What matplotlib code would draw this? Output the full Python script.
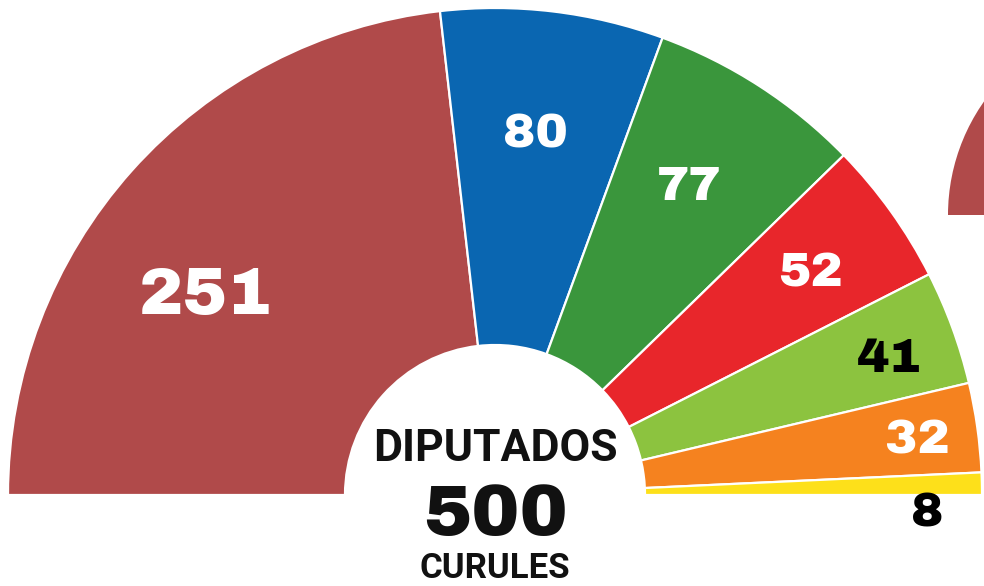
import matplotlib.pyplot as plt
from matplotlib.patches import Wedge
import numpy as np

# seats per party, drawn as a half donut (clockwise from the left)
seats = [251, 80, 77, 52, 41, 32, 8]
colors = ["#b04a4a", "#0a66b1", "#3a963c", "#e8262b", "#8cc33f", "#f5821f", "#fde01a"]
label_colors = ["white", "white", "white", "white", "black", "white", "black"]
title_top = "DIPUTADOS"
title_num = "500"
title_bottom = "CURULES"

W, H = 984, 586
fig = plt.figure(figsize=(W / 100, H / 100), dpi=100)
ax = fig.add_axes([0, 0, 1, 1])
ax.set_xlim(0, W)
ax.set_ylim(0, H)
ax.set_aspect("equal")
ax.axis("off")

# geometry in pixels (y up)
cx, cy = 495, H - 495
r_out, r_in = 487, 150

total = sum(seats)
start = 0
mids = []
for v, c in zip(seats, colors):
    t2 = 180 - start / total * 180
    t1 = 180 - (start + v) / total * 180
    ax.add_patch(Wedge((cx, cy), r_out, t1, t2, width=r_out - r_in,
                       facecolor=c, edgecolor="white", linewidth=1.6))
    mids.append((t1 + t2) / 2)
    start += v

# label placement: radius and angle shift from the mid angle
label_r = [355, 367, 368, 388, 419, 427, 432]
label_shift = [6.5, 0.5, 1, 0, -0.5, 0, -3.2]
num_font = dict(family=["Archivo Black", "DejaVu Sans"], weight="normal")
for i, v in enumerate(seats):
    a = np.radians(mids[i] + label_shift[i])
    x = cx + label_r[i] * np.cos(a)
    y = cy + label_r[i] * np.sin(a)
    fs = 48 if i == 0 else 35
    ax.text(x, y, str(v), color=label_colors[i], fontsize=fs,
            ha="center", va="center_baseline", **num_font)

# partial wedge of the neighbouring chart, cut by the right edge
ax.add_patch(Wedge((1145, H - 215), 197, 90, 180, facecolor=colors[0],
                   edgecolor="none"))

narrow = dict(family=["Roboto", "DejaVu Sans"], weight="bold")
ax.text(cx, H - 449, title_top, fontsize=32, ha="center", va="center",
        color="#111111", **narrow)
ax.text(cx, H - 509, title_num, fontsize=52, ha="center", va="center_baseline",
        color="#111111", **num_font)
ax.text(cx, H - 569, title_bottom, fontsize=25, ha="center", va="center",
        color="#111111", **narrow)

fig.savefig("out.png", dpi=100, facecolor="white")
